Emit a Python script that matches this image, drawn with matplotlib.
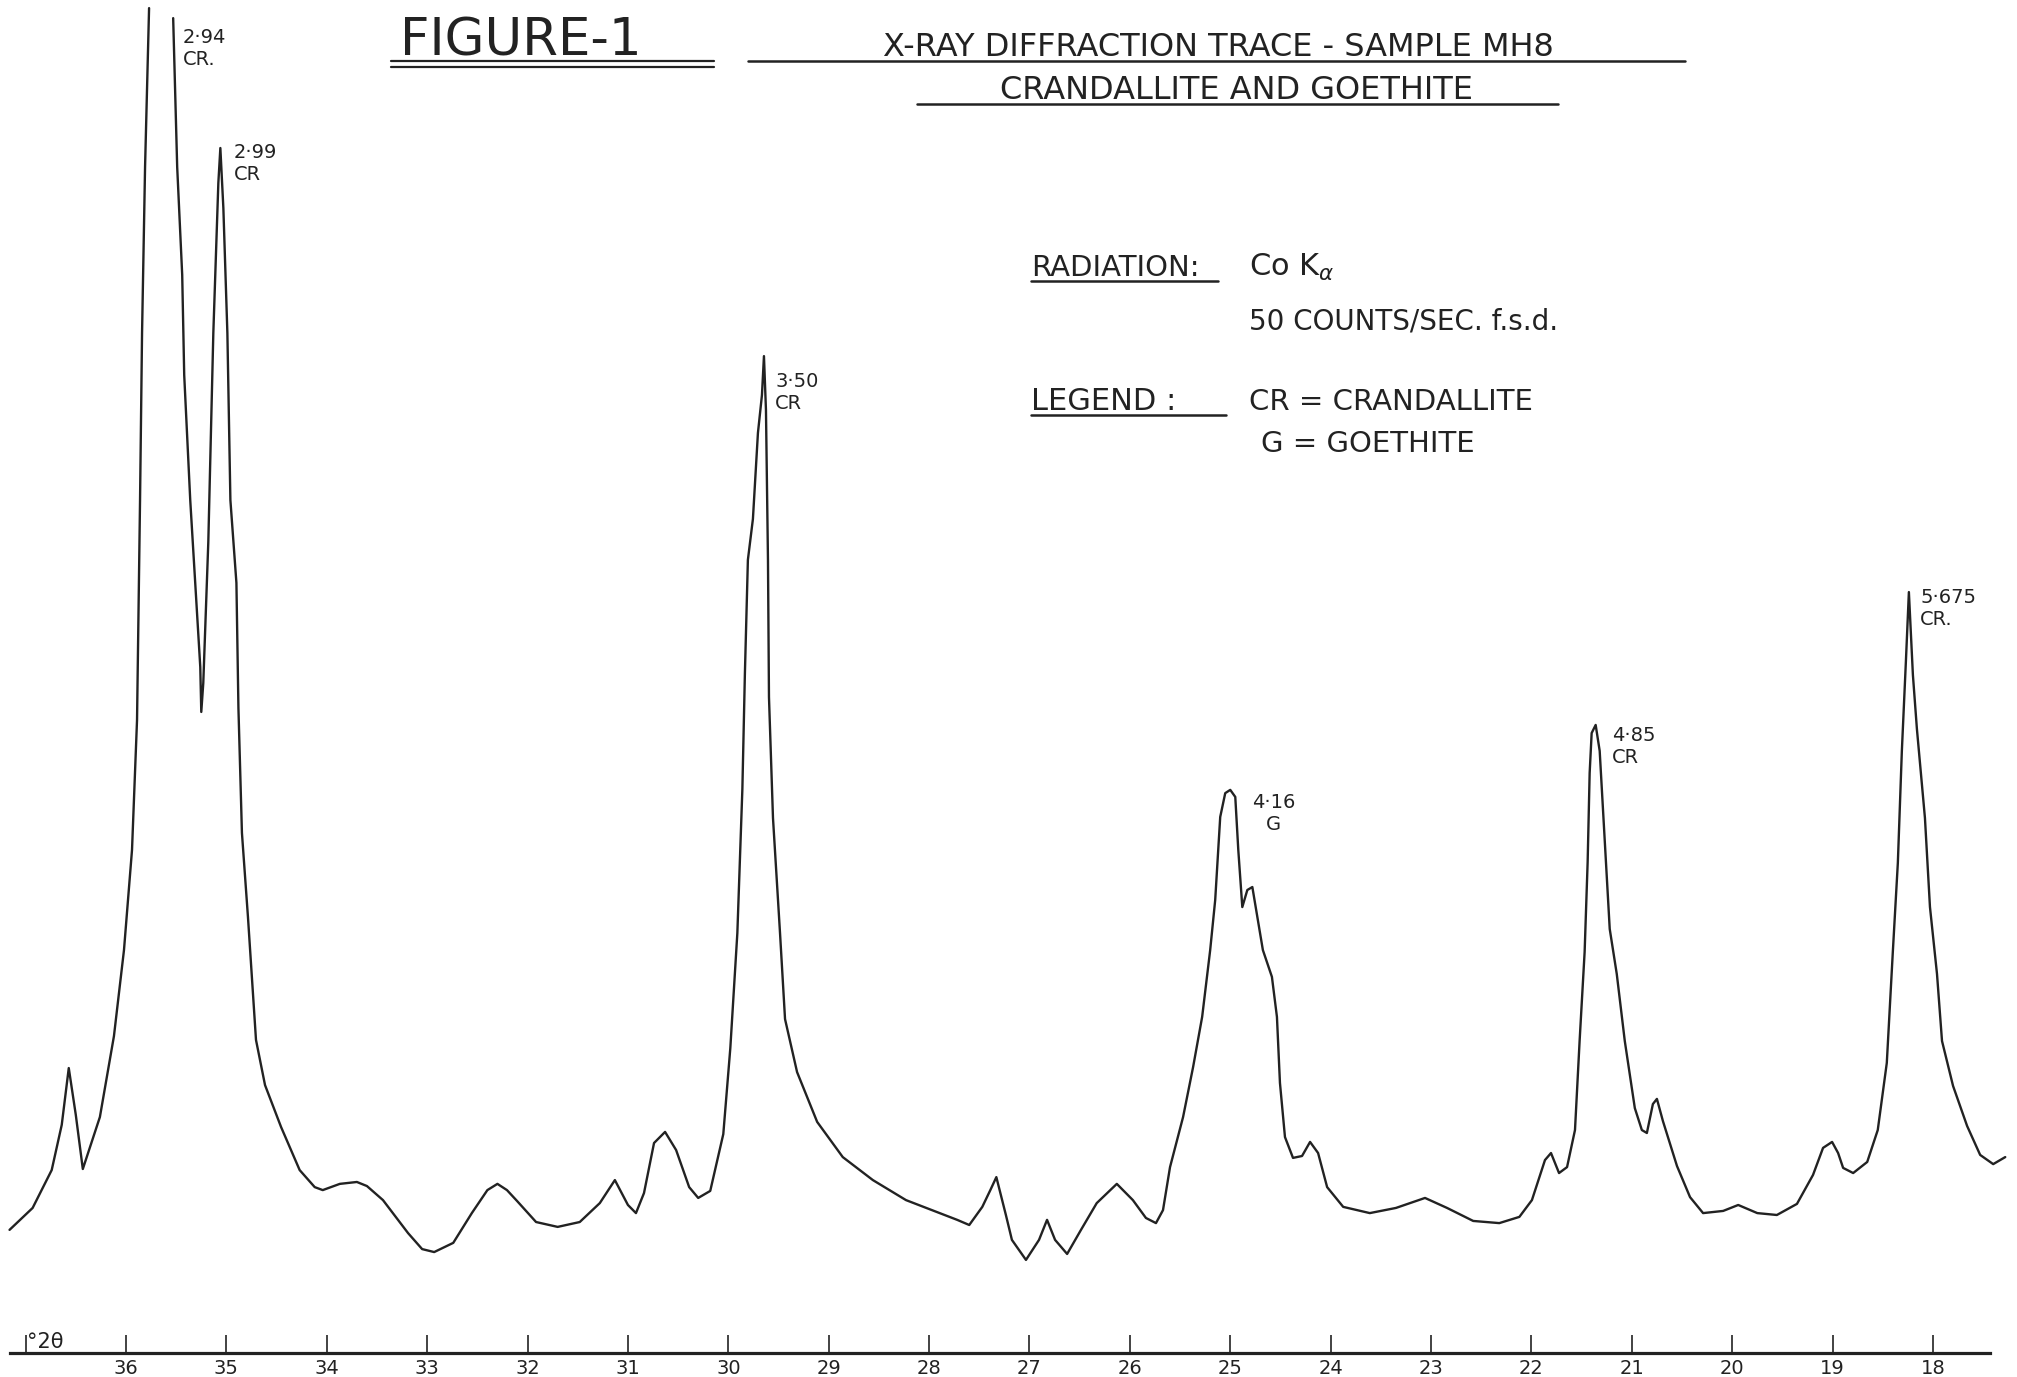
import numpy as np
import matplotlib
matplotlib.use('Agg')
import matplotlib.pyplot as plt
from matplotlib.lines import Line2D

W, H = 2017, 1377
INK = '#222222'

# chart trace: degrees 2-theta and counts/sec
# (nan where the pen ran off the top of the chart)
two_theta = [
    37.16, 36.93, 36.74, 36.64, 36.57, 36.50, 36.43, 36.26, 36.12, 36.02,
    35.94, 35.89, 35.86, 35.84, 35.81, 35.77, 35.65, 35.53, 35.49, 35.44,
    35.42, 35.36, 35.31, 35.26, 35.25, 35.23, 35.18, 35.13, 35.08, 35.06,
    35.03, 34.99, 34.96, 34.90, 34.88, 34.845, 34.785, 34.705, 34.615, 34.455,
    34.27, 34.12, 34.04, 33.87, 33.70, 33.60, 33.44, 33.19, 33.05, 32.93,
    32.74, 32.555, 32.40, 32.30, 32.205, 32.105, 31.915, 31.70, 31.48, 31.28,
    31.13, 31.00, 30.92, 30.84, 30.74, 30.63, 30.52, 30.39, 30.30, 30.18,
    30.05, 29.98, 29.91, 29.86, 29.835, 29.805, 29.755, 29.705, 29.665, 29.645,
    29.625, 29.605, 29.595, 29.555, 29.485, 29.435, 29.315, 29.115, 28.86, 28.56,
    28.23, 27.72, 27.60, 27.47, 27.39, 27.33, 27.235, 27.175, 27.035, 26.905,
    26.825, 26.745, 26.625, 26.487, 26.33, 26.13, 25.97, 25.84, 25.74, 25.67,
    25.60, 25.47, 25.37, 25.28, 25.20, 25.15, 25.10, 25.05, 25.00, 24.95,
    24.92, 24.88, 24.83, 24.78, 24.73, 24.675, 24.585, 24.535, 24.505, 24.455,
    24.375, 24.285, 24.205, 24.125, 24.035, 23.875, 23.61, 23.35, 23.06, 22.84,
    22.58, 22.32, 22.12, 21.995, 21.865, 21.805, 21.725, 21.645, 21.566, 21.52,
    21.47, 21.44, 21.42, 21.40, 21.36, 21.32, 21.27, 21.22, 21.15, 21.07,
    20.97, 20.90, 20.85, 20.79, 20.75, 20.69, 20.55, 20.42, 20.29, 20.09,
    19.94, 19.75, 19.555, 19.355, 19.195, 19.095, 19.005, 18.945, 18.895, 18.795,
    18.655, 18.55, 18.46, 18.40, 18.35, 18.31, 18.27, 18.24, 18.20, 18.16,
    18.08, 18.03, 17.96, 17.91, 17.80, 17.66, 17.53, 17.40, 17.28,
]
counts = [
    4.55, 5.36, 6.76, 8.43, 10.53, 8.80, 6.80, 8.72, 11.71, 14.89,
    18.59, 23.39, 31.52, 37.69, 43.83, 49.70, np.nan, 49.33, 43.83, 39.84,
    36.14, 31.52, 28.46, 25.35, 23.69, 24.76, 29.97, 37.69, 43.24, 44.53,
    42.31, 37.69, 31.52, 28.46, 23.84, 19.22, 16.11, 11.57, 9.90, 8.35,
    6.76, 6.13, 6.02, 6.25, 6.32, 6.17, 5.65, 4.43, 3.84, 3.73,
    4.07, 5.17, 6.02, 6.25, 6.02, 5.62, 4.84, 4.66, 4.84, 5.54,
    6.39, 5.47, 5.17, 5.91, 7.76, 8.17, 7.50, 6.13, 5.73, 5.99,
    8.09, 11.27, 15.52, 20.84, 25.09, 29.31, 30.82, 34.00, 35.40, 36.84,
    34.85, 29.31, 24.24, 19.77, 15.52, 12.34, 10.38, 8.54, 7.24, 6.39,
    5.65, 4.92, 4.73, 5.40, 6.02, 6.50, 5.10, 4.18, 3.44, 4.18,
    4.92, 4.18, 3.66, 4.55, 5.54, 6.25, 5.65, 4.99, 4.80, 5.28,
    6.87, 8.72, 10.57, 12.42, 14.89, 16.74, 19.81, 20.69, 20.81, 20.55,
    18.59, 16.48, 17.11, 17.22, 16.11, 14.89, 13.90, 12.42, 9.98, 7.98,
    7.21, 7.28, 7.80, 7.39, 6.13, 5.40, 5.17, 5.36, 5.73, 5.36,
    4.88, 4.80, 5.03, 5.65, 7.13, 7.39, 6.65, 6.87, 8.24, 11.53,
    14.82, 18.14, 21.43, 22.91, 23.21, 22.25, 18.96, 15.67, 14.01, 11.53,
    9.05, 8.24, 8.13, 9.20, 9.39, 8.57, 6.91, 5.76, 5.17, 5.25,
    5.47, 5.17, 5.10, 5.51, 6.58, 7.58, 7.80, 7.39, 6.84, 6.65,
    7.06, 8.24, 10.72, 14.82, 18.11, 22.25, 25.54, 28.12, 25.06, 23.06,
    19.77, 16.48, 14.01, 11.53, 9.87, 8.39, 7.32, 6.98, 7.24,
]

tick_degrees = list(range(18, 37))
tick_labels = [str(d) for d in tick_degrees]

# d-spacings and phase of the marked reflections
peak_names = ['2·94\nCR.', '2·99\nCR', '3·50\nCR', '4·16\nG', '4·85\nCR', '5·675\nCR.']
peak_name_pos = [(183, 28), (234, 143), (775, 372), (1252, 793), (1612, 726), (1920, 588)]
peak_name_align = ['left', 'left', 'left', 'center', 'left', 'left']


def fig_xy(x, y):
    # sheet position in pixels (from top left) -> figure fraction
    return x / W, 1 - y / H


def put_text(x, y, s, size, **kw):
    fx, fy = fig_xy(x, y)
    kw.setdefault('va', 'baseline')
    kw.setdefault('ha', 'left')
    fig.text(fx, fy, s, fontsize=size, color=INK, family='DejaVu Sans', **kw)


def underline(x0, x1, y, lw=1.8):
    (fx0, fy), (fx1, _) = fig_xy(x0, y), fig_xy(x1, y)
    fig.add_artist(Line2D([fx0, fx1], [fy, fy], transform=fig.transFigure,
                          color=INK, lw=lw, solid_capstyle='round'))


fig = plt.figure(figsize=(W / 100, H / 100), dpi=100)
fig.patch.set_facecolor('white')

ax = fig.add_axes([0, 0, 1, 1])
ax.plot(two_theta, counts, color=INK, lw=1.7,
        solid_joinstyle='round', solid_capstyle='round')

# 2-theta runs from high to low angle across the sheet
ax.set_xlim(37.255, 17.163)
ax.set_ylim(-0.887, 50)
for side in ['left', 'right', 'top']:
    ax.spines[side].set_visible(False)
ax.spines['bottom'].set_position(('data', 0))
ax.spines['bottom'].set_bounds(17.43, 37.16)
ax.spines['bottom'].set_linewidth(2.3)
ax.spines['bottom'].set_color(INK)
ax.set_xticks(tick_degrees)
ax.set_xticklabels(tick_labels)
ax.set_xticks([37], minor=True)
ax.tick_params(axis='x', which='both', direction='in', length=13, width=1.2,
               pad=4, labelsize=14, color=INK, labelcolor=INK)
ax.set_yticks([])

put_text(27, 1348, '°2θ', 15)

# heading
put_text(400, 55, 'FIGURE-1', 37)
underline(391, 714, 61, lw=1.6)
underline(391, 714, 67, lw=1.6)
put_text(1218, 56, 'X-RAY DIFFRACTION TRACE - SAMPLE MH8', 23, ha='center')
underline(748, 1685, 61)
put_text(1237, 99, 'CRANDALLITE AND GOETHITE', 23, ha='center')
underline(917, 1558, 104)

# instrument notes and legend
put_text(1031, 276, 'RADIATION:', 21)
underline(1031, 1218, 281)
put_text(1249, 276, r'Co K$_\alpha$', 22)
put_text(1249, 330, '50 COUNTS/SEC. f.s.d.', 20)
put_text(1031, 410, 'LEGEND :', 22)
underline(1031, 1226, 415)
put_text(1249, 410, 'CR = CRANDALLITE', 21)
put_text(1261, 452, 'G = GOETHITE', 21)

for name, (x, y), al in zip(peak_names, peak_name_pos, peak_name_align):
    put_text(x, y, name, 14, va='top', multialignment=al)

fig.savefig('out.png', dpi=100, facecolor='white')
